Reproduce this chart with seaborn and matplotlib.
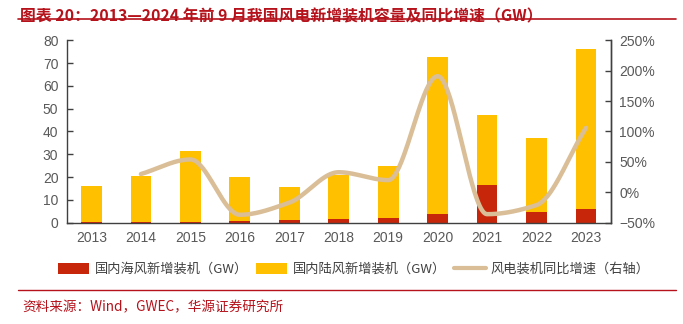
import numpy as np
import pandas as pd
import matplotlib
matplotlib.use("Agg")
import matplotlib.pyplot as plt
import seaborn as sns
from matplotlib.patches import Patch
from matplotlib.lines import Line2D

# ---- data ----
years = ["2013", "2014", "2015", "2016", "2017", "2018", "2019", "2020", "2021", "2022", "2023"]
offshore = [0.4, 0.2, 0.4, 0.6, 1.0, 1.6, 2.2, 3.7, 16.7, 4.8, 6.0]
onshore = [15.7, 20.4, 31.2, 19.4, 14.8, 19.3, 22.8, 69.0, 30.5, 32.3, 70.2]
growth = [np.nan, 30, 54, -37, -17, 33, 20, 191, -36, -21, 106]

left_ticks = [0, 10, 20, 30, 40, 50, 60, 70, 80]
right_ticks = [-50, 0, 50, 100, 150, 200, 250]

title = "图表 20：2013—2024 年前 9 月我国风电新增装机容量及同比增速（GW）"
source = "资料来源：Wind，GWEC，华源证券研究所"
legend_labels = ["国内海风新增装机（GW）", "国内陆风新增装机（GW）", "风电装机同比增速（右轴）"]

RED = "#C8260B"
YELLOW = "#FFC000"
TAN = "#D9BE97"
GRAY = "#595959"
SPINE = "#404040"
TITLE_RED = "#B5121B"

sns.set_theme(style="white")
plt.rcParams['font.family'] = ['Liberation Sans', 'Noto Sans CJK SC', 'DejaVu Sans']
plt.rcParams['axes.unicode_minus'] = False
CJK = ['Noto Sans CJK SC', 'DejaVu Sans']

df = pd.DataFrame({"year": years, "offshore": offshore, "onshore": onshore})
df["total"] = df["offshore"] + df["onshore"]

fig = plt.figure(figsize=(6.83, 3.24), dpi=100)
ax = fig.add_axes([0.0977, 0.3127, 0.7964, 0.5629])

sns.barplot(data=df, x="year", y="total", color=YELLOW, width=0.42, ax=ax,
            saturation=1, edgecolor="none")
sns.barplot(data=df, x="year", y="offshore", color=RED, width=0.42, ax=ax,
            saturation=1, edgecolor="none")

ax.set_xlim(-0.5, len(years) - 0.5)
ax.set_ylim(0, 80)
ax.set_yticks(left_ticks)
ax.set_yticklabels([str(t) for t in left_ticks])
ax.set_xlabel("")
ax.set_ylabel("")
ax.tick_params(axis="y", direction="in", length=4, width=1, color=SPINE,
               labelsize=10, labelcolor=GRAY, pad=6)
ax.tick_params(axis="x", which="major", length=0, labelsize=10, labelcolor=GRAY, pad=6)
ax.set_xticks(np.arange(-0.5, len(years) + 0.5, 1.0), minor=True)
ax.tick_params(axis="x", which="minor", direction="out", length=5, width=1, color=SPINE)
for s in ["left", "bottom", "right"]:
    ax.spines[s].set_visible(True)
    ax.spines[s].set_color(SPINE)
    ax.spines[s].set_linewidth(1)
ax.spines["top"].set_visible(False)

# growth line on right axis (smooth, shape-preserving rendering through read points)
ax2 = ax.twinx()
xs = np.arange(len(years), dtype=float)
gy = np.array(growth, dtype=float)
mask = ~np.isnan(gy)
px, py = xs[mask], gy[mask]
h = np.diff(px)
delta = np.diff(py) / h
n = len(px)
d = np.zeros(n)
for k in range(1, n - 1):
    if delta[k - 1] * delta[k] > 0:
        w1 = 2 * h[k] + h[k - 1]
        w2 = h[k] + 2 * h[k - 1]
        d[k] = (w1 + w2) / (w1 / delta[k - 1] + w2 / delta[k])
    else:
        d[k] = 0.0
d[0] = delta[0]
d[-1] = delta[-1]
cx, cy = [], []
for k in range(n - 1):
    t = np.linspace(0, 1, 40, endpoint=(k == n - 2))
    h00 = 2 * t**3 - 3 * t**2 + 1
    h10 = t**3 - 2 * t**2 + t
    h01 = -2 * t**3 + 3 * t**2
    h11 = t**3 - t**2
    cx.extend(px[k] + t * h[k])
    cy.extend(h00 * py[k] + h10 * h[k] * d[k] + h01 * py[k + 1] + h11 * h[k] * d[k + 1])
line_df = pd.DataFrame({"x": cx, "y": cy})
sns.lineplot(data=line_df, x="x", y="y", ax=ax2, color=TAN, linewidth=3.2,
             sort=False, estimator=None)
ax2.set_ylim(-50, 250)
ax2.set_yticks(right_ticks)
ax2.set_yticklabels([f"{t}%" if t >= 0 else f"\u2212{abs(t)}%" for t in right_ticks])
ax2.set_ylabel("")
ax2.set_xlabel("")
ax2.tick_params(axis="y", direction="in", length=4, width=1, color=SPINE,
                labelsize=10, labelcolor=GRAY, pad=6)
for s in ["left", "bottom", "top"]:
    ax2.spines[s].set_visible(False)
ax2.spines["right"].set_color(SPINE)
ax2.spines["right"].set_linewidth(1)
ax2.set_xlim(-0.5, len(years) - 0.5)

# title
fig.text(0.03, 0.975, title, fontsize=11.4, fontweight="bold", color=TITLE_RED,
         ha="left", va="top", family=CJK)
fig.add_artist(Line2D([0.027, 0.99], [0.94, 0.94], color=TITLE_RED, linewidth=1.2))

# legend
handles = [Patch(facecolor=RED, edgecolor="none"),
           Patch(facecolor=YELLOW, edgecolor="none"),
           Line2D([0], [0], color=TAN, linewidth=3)]
fig.legend(handles, legend_labels, loc="center", bbox_to_anchor=(0.518, 0.168), ncol=3,
           frameon=False, prop={"family": CJK, "size": 9.5}, labelcolor="#404040",
           handlelength=2.4, handleheight=0.8, columnspacing=0.6, handletextpad=0.4)

fig.add_artist(Line2D([0.027, 0.99], [0.105, 0.105], color=TITLE_RED, linewidth=1))
fig.text(0.033, 0.05, source, fontsize=9.8, color=TITLE_RED, ha="left", va="center",
         family=CJK)

fig.savefig("out.png", dpi=100)
